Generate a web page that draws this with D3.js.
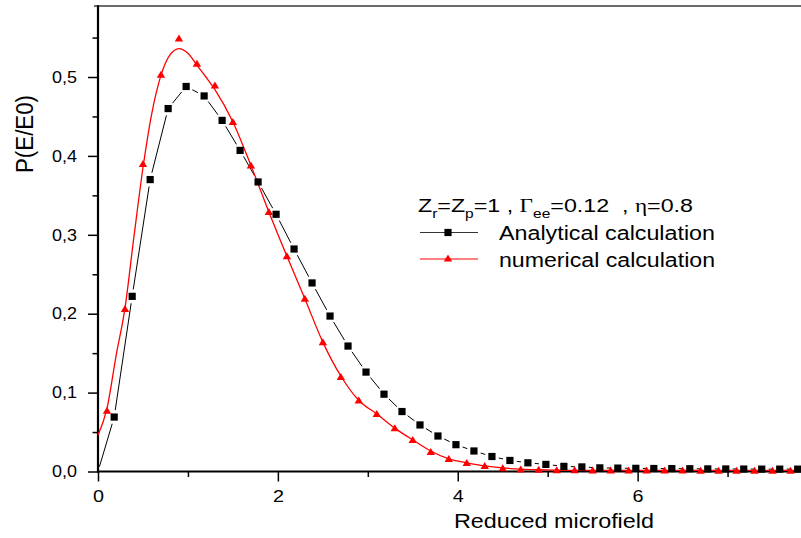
<!DOCTYPE html>
<html><head><meta charset="utf-8">
<script src="https://cdn.jsdelivr.net/npm/d3@7"></script>
<style>body{margin:0;background:#fff;} svg{display:block;font-family:"Liberation Sans",Arial,sans-serif;}</style>
</head><body><svg id="c" width="801" height="538"></svg>
<script>
// ---- data ----
const analyticalX = [0.18,0.38,0.58,0.78,0.98,1.18,1.38,1.58,1.78,1.98,2.18,2.38,2.58,2.78,2.98,3.18,3.38,3.58,3.78,3.98,4.18,4.38,4.58,4.78,4.98,5.18,5.38,5.58,5.78,5.98,6.18,6.38,6.58,6.78,6.98,7.18,7.38,7.58,7.78,7.98];
const analyticalY = [0.069,0.222,0.370,0.460,0.488,0.476,0.445,0.407,0.367,0.326,0.282,0.239,0.197,0.159,0.126,0.098,0.076,0.059,0.045,0.034,0.026,0.019,0.014,0.011,0.009,0.0065,0.0058,0.0046,0.0043,0.004,0.0038,0.0037,0.0035,0.0033,0.0032,0.0031,0.003,0.003,0.003,0.003];
const analyticalOrigin = [0, 0];
const numericalX = [0.1,0.3,0.5,0.7,0.9,1.1,1.3,1.5,1.7,1.9,2.1,2.3,2.5,2.7,2.9,3.1,3.3,3.5,3.7,3.9,4.1,4.3,4.5,4.7,4.9,5.1,5.3,5.5,5.7,5.9,6.1,6.3,6.5,6.7,6.9,7.1,7.3,7.5,7.7,7.9];
const numericalY = [0.077,0.206,0.390,0.503,0.549,0.517,0.4895,0.443,0.388,0.329,0.273,0.219,0.164,0.120,0.090,0.073,0.055,0.040,0.025,0.016,0.011,0.007,0.0042,0.0026,0.0022,0.0018,0.0016,0.0015,0.0014,0.0014,0.0013,0.0013,0.0013,0.0012,0.0012,0.0012,0.0012,0.0012,0.0012,0.0012];
const numericalCurveX = [0,0.1,0.2,0.3,0.4,0.5,0.6,0.7,0.8,0.9,1.0,1.1,1.2,1.3,1.5,1.7,1.9,2.1,2.3,2.5,2.7,2.9,3.1,3.3,3.5,3.7,3.9,4.1,4.3,4.5,4.7,4.9,5.1,5.3,5.5,6.0,6.5,7.0,7.5,8.0];
const numericalCurveY = [0.046,0.080,0.146,0.207,0.298,0.385,0.455,0.502,0.528,0.536,0.530,0.515,0.500,0.484,0.443,0.388,0.329,0.273,0.219,0.164,0.121,0.090,0.073,0.055,0.040,0.026,0.016,0.011,0.007,0.0045,0.003,0.0022,0.0017,0.0015,0.0014,0.0014,0.0014,0.0014,0.0014,0.0014];
const xMajorTicks = [0,2,4,6];
const xMinorTicks = [1,3,5,7];
const xTickLabels = ["0","2","4","6"];
const yMajorTicks = [0,0.1,0.2,0.3,0.4,0.5];
const yMinorTicks = [0.05,0.15,0.25,0.35,0.45,0.55];
const yTickLabels = ["0,0","0,1","0,2","0,3","0,4","0,5"];
const seriesNames = ["Analytical calculation","numerical calculation"];
const xTitle = "Reduced microfield";
const yTitle = "P(E/E0)";

// ---- layout ----
const svg = d3.select("#c");
const x = d3.scaleLinear().domain([0, 8]).range([98, 817.5]);
const y = d3.scaleLinear().domain([0, 0.59]).range([471.5, 6]);
const x0 = x(0), yb = y(0), yt = y.range()[1];

// top frame line
svg.append("line").attr("x1", x0 - 4).attr("x2", x(8.3)).attr("y1", yt).attr("y2", yt)
  .attr("stroke", "#3a3a3a").attr("stroke-width", 1.6);

// axes ticks
const gx = svg.append("g").attr("transform", `translate(0,${yb})`)
  .call(d3.axisBottom(x).tickValues(xMajorTicks).tickFormat((d,i)=>xTickLabels[i]).tickSize(10).tickPadding(8));
const gxm = svg.append("g").attr("transform", `translate(0,${yb})`)
  .call(d3.axisBottom(x).tickValues(xMinorTicks).tickFormat("").tickSize(5.5));
const gy = svg.append("g").attr("transform", `translate(${x0},0)`)
  .call(d3.axisLeft(y).tickValues(yMajorTicks).tickFormat((d,i)=>yTickLabels[i]).tickSize(10).tickPadding(11));
const gym = svg.append("g").attr("transform", `translate(${x0},0)`)
  .call(d3.axisLeft(y).tickValues(yMinorTicks).tickFormat("").tickSize(5.5));
[gx,gxm,gy,gym].forEach(g=>{
  g.select(".domain").remove();
  g.selectAll(".tick line").attr("stroke","#000").attr("stroke-width",1.5);
});
gx.selectAll(".tick text").attr("font-size",17).attr("fill","#000")
  .attr("font-family",'"Liberation Sans",Arial,sans-serif')
  .attr("textLength",11).attr("lengthAdjust","spacingAndGlyphs");
gy.selectAll(".tick text").attr("font-size",16.5).attr("fill","#000")
  .attr("font-family",'"Liberation Sans",Arial,sans-serif')
  .attr("textLength",25).attr("lengthAdjust","spacingAndGlyphs");

// axis lines
svg.append("line").attr("x1", x0).attr("x2", x0).attr("y1", yt - 0.8).attr("y2", yb + 1)
  .attr("stroke", "#000").attr("stroke-width", 2.2);
svg.append("line").attr("x1", x0 - 1).attr("x2", x(8.3)).attr("y1", yb).attr("y2", yb)
  .attr("stroke", "#000").attr("stroke-width", 2.2);

// titles
svg.append("text").attr("x", 454).attr("y", 528).attr("font-size", 19.5)
  .attr("textLength", 200).attr("lengthAdjust","spacingAndGlyphs").text(xTitle);
svg.append("text").attr("transform", "translate(33,134) rotate(-90)").attr("text-anchor","middle")
  .attr("font-size", 23).attr("textLength", 78).attr("lengthAdjust","spacingAndGlyphs").text(yTitle);

// analytical line with gaps around markers
const aPts = [[x(analyticalOrigin[0]), y(analyticalOrigin[1]), false]]
  .concat(analyticalX.map((v,i)=>[x(v), y(analyticalY[i]), true]));
const gap = 7;
const segs = [];
for (let i = 0; i < aPts.length - 1; i++) {
  const [ax, ay, am] = aPts[i], [bx, by, bm] = aPts[i+1];
  const dx = bx-ax, dy = by-ay, L = Math.hypot(dx, dy);
  const s = am ? gap : 5, e = bm ? gap : 0;
  if (L > s + e + 0.5) segs.push([ax+dx*s/L, ay+dy*s/L, bx-dx*e/L, by-dy*e/L]);
}
svg.append("g").selectAll("line").data(segs).join("line")
  .attr("x1",d=>d[0]).attr("y1",d=>d[1]).attr("x2",d=>d[2]).attr("y2",d=>d[3])
  .attr("stroke","#000").attr("stroke-width",1);

// numerical curve
const curve = d3.line().x(d=>x(d[0])).y(d=>y(d[1])).curve(d3.curveMonotoneX);
svg.append("path").datum(numericalCurveX.map((v,i)=>[v, numericalCurveY[i]]))
  .attr("d", curve).attr("fill","none").attr("stroke","#ff0000").attr("stroke-width",1.3);

// markers
const sq = 7.2;
svg.append("g").selectAll("rect").data(analyticalX.map((v,i)=>[v, analyticalY[i]])).join("rect")
  .attr("x",d=>x(d[0])-sq/2).attr("y",d=>y(d[1])-sq/2).attr("width",sq).attr("height",sq).attr("fill","#000");
const tri = "M0,-3.9L4.2,3.1L-4.2,3.1Z";
svg.append("g").selectAll("path").data(numericalX.map((v,i)=>[v, numericalY[i]])).join("path")
  .attr("d", tri).attr("transform",d=>`translate(${x(d[0])},${y(d[1])})`).attr("fill","#ff0000");

// legend
const lg = svg.append("g");
const t1 = lg.append("text").attr("x", 418).attr("y", 212).attr("font-size", 18)
  .attr("textLength", 275).attr("lengthAdjust","spacingAndGlyphs").attr("xml:space","preserve");
t1.append("tspan").text("Z");
t1.append("tspan").attr("font-size",12).attr("dy",6).text("r");
t1.append("tspan").attr("dy",-6).text("=Z");
t1.append("tspan").attr("font-size",12).attr("dy",6).text("p");
t1.append("tspan").attr("dy",-6).text("=1 , ");
t1.append("tspan").attr("font-family",'"Liberation Serif","Times New Roman",serif').text("\u0393");
t1.append("tspan").attr("font-size",12).attr("dy",6).text("ee");
t1.append("tspan").attr("dy",-6).text("=0.12  , ");
t1.append("tspan").attr("font-family",'"Liberation Serif","Times New Roman",serif').text("\u03B7");
t1.append("tspan").text("=0.8");

const legY = [232.5, 259];
lg.append("line").attr("x1",420).attr("x2",478).attr("y1",legY[0]).attr("y2",legY[0]).attr("stroke","#333").attr("stroke-width",1);
lg.append("rect").attr("x",448-sq/2).attr("y",legY[0]-sq/2).attr("width",sq).attr("height",sq).attr("fill","#000");
lg.append("line").attr("x1",420).attr("x2",478).attr("y1",legY[1]).attr("y2",legY[1]).attr("stroke","#ff0000").attr("stroke-width",1);
lg.append("path").attr("d",tri).attr("transform",`translate(448,${legY[1]-0.5})`).attr("fill","#ff0000");
lg.selectAll("text.s").data(seriesNames).join("text").attr("class","s")
  .attr("x",499).attr("y",(d,i)=>legY[i]+7.5).attr("font-size",19.5)
  .attr("textLength",216).attr("lengthAdjust","spacingAndGlyphs").text(d=>d);
</script></body></html>
